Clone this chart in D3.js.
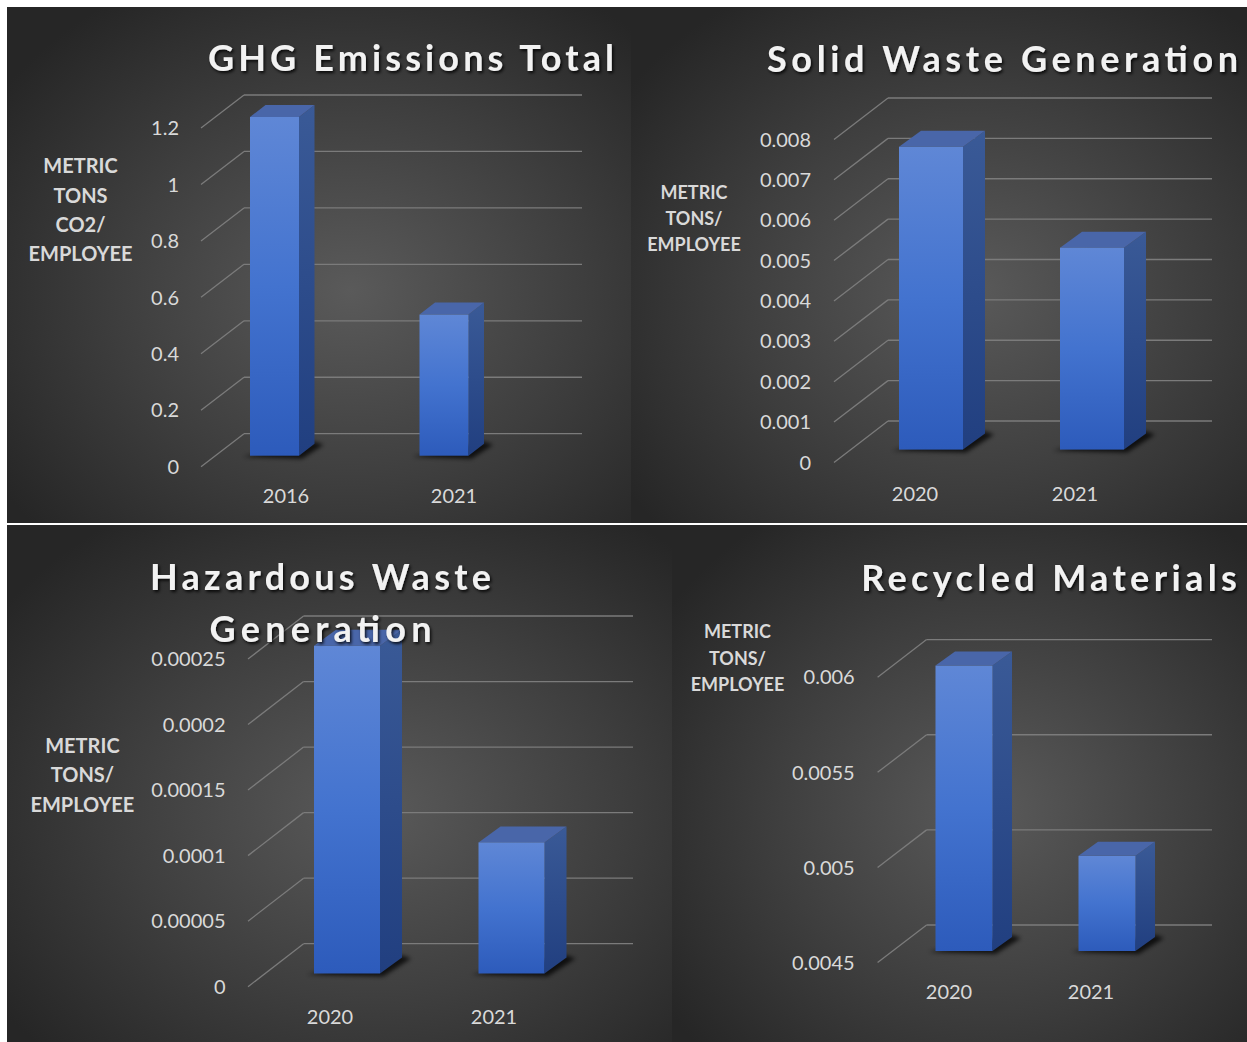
<!DOCTYPE html>
<html><head><meta charset="utf-8">
<script src="https://cdn.jsdelivr.net/npm/d3@7"></script>
<style>html,body{margin:0;padding:0;background:#fff;} svg{display:block;}</style>
</head><body>
<svg id="c" width="1247" height="1042"></svg>
<script>
// ---------- DATA ----------
const ghgCategories = ["2016", "2021"];
const ghgValues = [1.2, 0.5];
const ghgTicks = [0, 0.2, 0.4, 0.6, 0.8, 1, 1.2];
const ghgTickLabels = ["0", "0.2", "0.4", "0.6", "0.8", "1", "1.2"];

const solidCategories = ["2020", "2021"];
const solidValues = [0.0075, 0.005];
const solidTicks = [0, 0.001, 0.002, 0.003, 0.004, 0.005, 0.006, 0.007, 0.008];
const solidTickLabels = ["0", "0.001", "0.002", "0.003", "0.004", "0.005", "0.006", "0.007", "0.008"];

const hazCategories = ["2020", "2021"];
const hazValues = [0.00025, 0.0001];
const hazTicks = [0, 0.00005, 0.0001, 0.00015, 0.0002, 0.00025];
const hazTickLabels = ["0", "0.00005", "0.0001", "0.00015", "0.0002", "0.00025"];

const recCategories = ["2020", "2021"];
const recValues = [0.006, 0.005];
const recTicks = [0.0045, 0.005, 0.0055, 0.006];
const recTickLabels = ["0.0045", "0.005", "0.0055", "0.006"];

const ghgTitle = ["GHG Emissions Total"];
const solidTitle = ["Solid Waste Generation"];
const hazTitle = ["Hazardous Waste", "Generation"];
const recTitle = ["Recycled Materials"];
const ghgAxisTitle = ["METRIC", "TONS", "CO2/", "EMPLOYEE"];
const tonsAxisTitle = ["METRIC", "TONS/", "EMPLOYEE"];

// ---------- LAYOUT ----------
const panels = [
  { cats: ghgCategories, vals: ghgValues, ticks: ghgTicks, tickLabels: ghgTickLabels,
    title: ghgTitle, axisTitle: ghgAxisTitle,
    box: [7, 7, 624, 516],
    titleX: 411, titleY: [71], titleLen: [406],
    axisX: 80.5, axisY: [166, 195.5, 225, 254], axisSize: 20,
    backLeft: 244, backRight: 582, floorDx: 43, floorDy: 33, backRange: [433.7, 95],
    barBase: 455.7, barPts: [274.5, 444], barW: 49, barDepth: [15.5, -12],
    labelPts: [286, 454], labelY: 496, tickRight: 179 },
  { cats: solidCategories, vals: solidValues, ticks: solidTicks, tickLabels: solidTickLabels,
    title: solidTitle, axisTitle: tonsAxisTitle,
    box: [631, 7, 616, 516],
    titleX: 1002.5, titleY: [71.5], titleLen: [471],
    axisX: 694, axisY: [193, 219, 245], axisSize: 18,
    backLeft: 888, backRight: 1212, floorDx: 54, floorDy: 41.4, backRange: [421, 98],
    barBase: 449.6, barPts: [931, 1092], barW: 64, barDepth: [22, -16],
    labelPts: [915, 1075], labelY: 493.6, tickRight: 811 },
  { cats: hazCategories, vals: hazValues, ticks: hazTicks, tickLabels: hazTickLabels,
    title: hazTitle, axisTitle: tonsAxisTitle,
    box: [7, 525, 665, 517],
    titleX: 320.5, titleY: [590.4, 642], titleLen: [341, 222],
    axisX: 82.4, axisY: [746, 775, 804.5], axisSize: 20,
    backLeft: 303.6, backRight: 633, floorDx: 55.6, floorDy: 43, backRange: [943.7, 616],
    barBase: 973.5, barPts: [347, 511.5], barW: 66, barDepth: [22, -16],
    labelPts: [330, 494], labelY: 1017, tickRight: 225.5 },
  { cats: recCategories, vals: recValues, ticks: recTicks, tickLabels: recTickLabels,
    title: recTitle, axisTitle: tonsAxisTitle,
    box: [672, 525, 575, 517],
    titleX: 1049, titleY: [590.8], titleLen: [375.6],
    axisX: 737.5, axisY: [632, 658.6, 684.7], axisSize: 18,
    backLeft: 926.6, backRight: 1212, floorDx: 49, floorDy: 37.6, backRange: [925, 639.6],
    barBase: 951, barPts: [964, 1107], barW: 57, barDepth: [19.5, -14],
    labelPts: [949, 1091], labelY: 991.8, tickRight: 854.7 }
];

const FONT = "Lato, 'Open Sans', sans-serif";
const svg = d3.select("#c");
const defs = svg.append("defs");

const fg = defs.append("linearGradient").attr("id", "gFront").attr("x1", 0).attr("y1", 0).attr("x2", 0).attr("y2", 1);
fg.append("stop").attr("offset", 0).attr("stop-color", "#5f87d6");
fg.append("stop").attr("offset", 0.5).attr("stop-color", "#4373cf");
fg.append("stop").attr("offset", 1).attr("stop-color", "#2d5bbb");
const sg = defs.append("linearGradient").attr("id", "gSide").attr("x1", 0).attr("y1", 0).attr("x2", 0).attr("y2", 1);
sg.append("stop").attr("offset", 0).attr("stop-color", "#3a5a97");
sg.append("stop").attr("offset", 1).attr("stop-color", "#213f80");

const sh = defs.append("filter").attr("id", "fShadow").attr("x", "-50%").attr("y", "-50%").attr("width", "200%").attr("height", "200%");
sh.append("feGaussianBlur").attr("stdDeviation", 2.2);
const ts = defs.append("filter").attr("id", "fTitle").attr("x", "-10%").attr("y", "-30%").attr("width", "120%").attr("height", "160%");
ts.append("feDropShadow").attr("dx", 1.5).attr("dy", 2).attr("stdDeviation", 1.6)
  .attr("flood-color", "#000").attr("flood-opacity", 0.85);

panels.forEach((L, i) => {
  const [bx, by, bw, bh] = L.box;
  const bg = defs.append("radialGradient").attr("id", "bg" + i)
    .attr("cx", "55%").attr("cy", "55%").attr("r", "68%");
  bg.append("stop").attr("offset", 0).attr("stop-color", "#5a5a5a");
  bg.append("stop").attr("offset", 0.55).attr("stop-color", "#3e3e3e");
  bg.append("stop").attr("offset", 1).attr("stop-color", "#262626");
  defs.append("clipPath").attr("id", "clip" + i).append("rect")
    .attr("x", bx).attr("y", by).attr("width", bw).attr("height", bh);

  const g = svg.append("g").attr("clip-path", `url(#clip${i})`);
  g.append("rect").attr("x", bx).attr("y", by).attr("width", bw).attr("height", bh)
    .attr("fill", `url(#bg${i})`);

  const dom = d3.extent(L.ticks);
  const yBack = d3.scaleLinear().domain(dom).range(L.backRange);
  const yFront = v => yBack(v) + L.floorDy;
  const frontLeft = L.backLeft - L.floorDx;

  g.selectAll("line.grid").data(L.ticks).join("line").attr("class", "grid")
    .attr("x1", L.backLeft).attr("x2", L.backRight)
    .attr("y1", d => yBack(d)).attr("y2", d => yBack(d))
    .attr("stroke", "#7b7b7b").attr("stroke-width", 1.3);
  g.selectAll("line.diag").data(L.ticks).join("line").attr("class", "diag")
    .attr("x1", frontLeft).attr("y1", d => yFront(d))
    .attr("x2", L.backLeft).attr("y2", d => yBack(d))
    .attr("stroke", "#7b7b7b").attr("stroke-width", 1.3);

  g.selectAll("text.tick").data(L.ticks).join("text").attr("class", "tick")
    .attr("x", L.tickRight).attr("y", d => yFront(d)).attr("dy", "0.36em")
    .attr("text-anchor", "end").attr("font-family", FONT).attr("font-size", 20)
    .attr("fill", "#d9d9d9").text((d, k) => L.tickLabels[k]);

  const yBar = d3.scaleLinear().domain(dom)
    .range([L.barBase, L.barBase - (yBack(dom[0]) - yBack(dom[1]))]);
  const x = d3.scalePoint().domain(L.cats).range(L.barPts);
  const [ddx, ddy] = L.barDepth;
  const data = L.cats.map((c, k) => ({ c, v: L.vals[k] }));

  const bars = g.selectAll("g.bar").data(data).join("g").attr("class", "bar");
  bars.append("polygon")
    .attr("points", d => {
      const x0 = x(d.c) - L.barW / 2, x1 = x0 + L.barW, b = L.barBase;
      return [[x0 - 7, b + 1], [x1 + 3, b + 3], [x1 + ddx + 9, b + ddy + 1], [x1 + ddx, b + ddy - 2]].join(" ");
    })
    .attr("fill", "#000").attr("opacity", 0.75).attr("filter", "url(#fShadow)");
  bars.append("polygon")
    .attr("points", d => {
      const x1 = x(d.c) + L.barW / 2, t = yBar(d.v), b = L.barBase;
      return [[x1, t], [x1 + ddx, t + ddy], [x1 + ddx, b + ddy], [x1, b]].join(" ");
    })
    .attr("fill", "url(#gSide)");
  bars.append("polygon")
    .attr("points", d => {
      const x0 = x(d.c) - L.barW / 2, x1 = x0 + L.barW, t = yBar(d.v);
      return [[x0, t], [x1, t], [x1 + ddx, t + ddy], [x0 + ddx, t + ddy]].join(" ");
    })
    .attr("fill", "#4966a9");
  bars.append("rect")
    .attr("x", d => x(d.c) - L.barW / 2).attr("y", d => yBar(d.v))
    .attr("width", L.barW).attr("height", d => L.barBase - yBar(d.v))
    .attr("fill", "url(#gFront)");

  const xl = d3.scalePoint().domain(L.cats).range(L.labelPts);
  g.selectAll("text.cat").data(L.cats).join("text").attr("class", "cat")
    .attr("x", d => xl(d)).attr("y", L.labelY).attr("dy", "0.36em")
    .attr("text-anchor", "middle").attr("font-family", FONT).attr("font-size", 20)
    .attr("fill", "#d9d9d9").text(d => d);

  g.selectAll("text.axt").data(L.axisTitle).join("text").attr("class", "axt")
    .attr("x", L.axisX).attr("y", (d, k) => L.axisY[k]).attr("dy", "0.36em")
    .attr("text-anchor", "middle").attr("font-family", FONT).attr("font-weight", 700)
    .attr("font-size", L.axisSize).attr("fill", "#d9d9d9").text(d => d);

  g.selectAll("text.ttl").data(L.title).join("text").attr("class", "ttl")
    .attr("x", L.titleX).attr("y", (d, k) => L.titleY[k])
    .attr("text-anchor", "middle").attr("font-family", FONT).attr("font-weight", 700)
    .attr("font-size", 36).attr("fill", "#f2f2f2")
    .attr("textLength", (d, k) => L.titleLen[k]).attr("lengthAdjust", "spacing")
    .attr("filter", "url(#fTitle)").text(d => d);
});
</script>
</body></html>
